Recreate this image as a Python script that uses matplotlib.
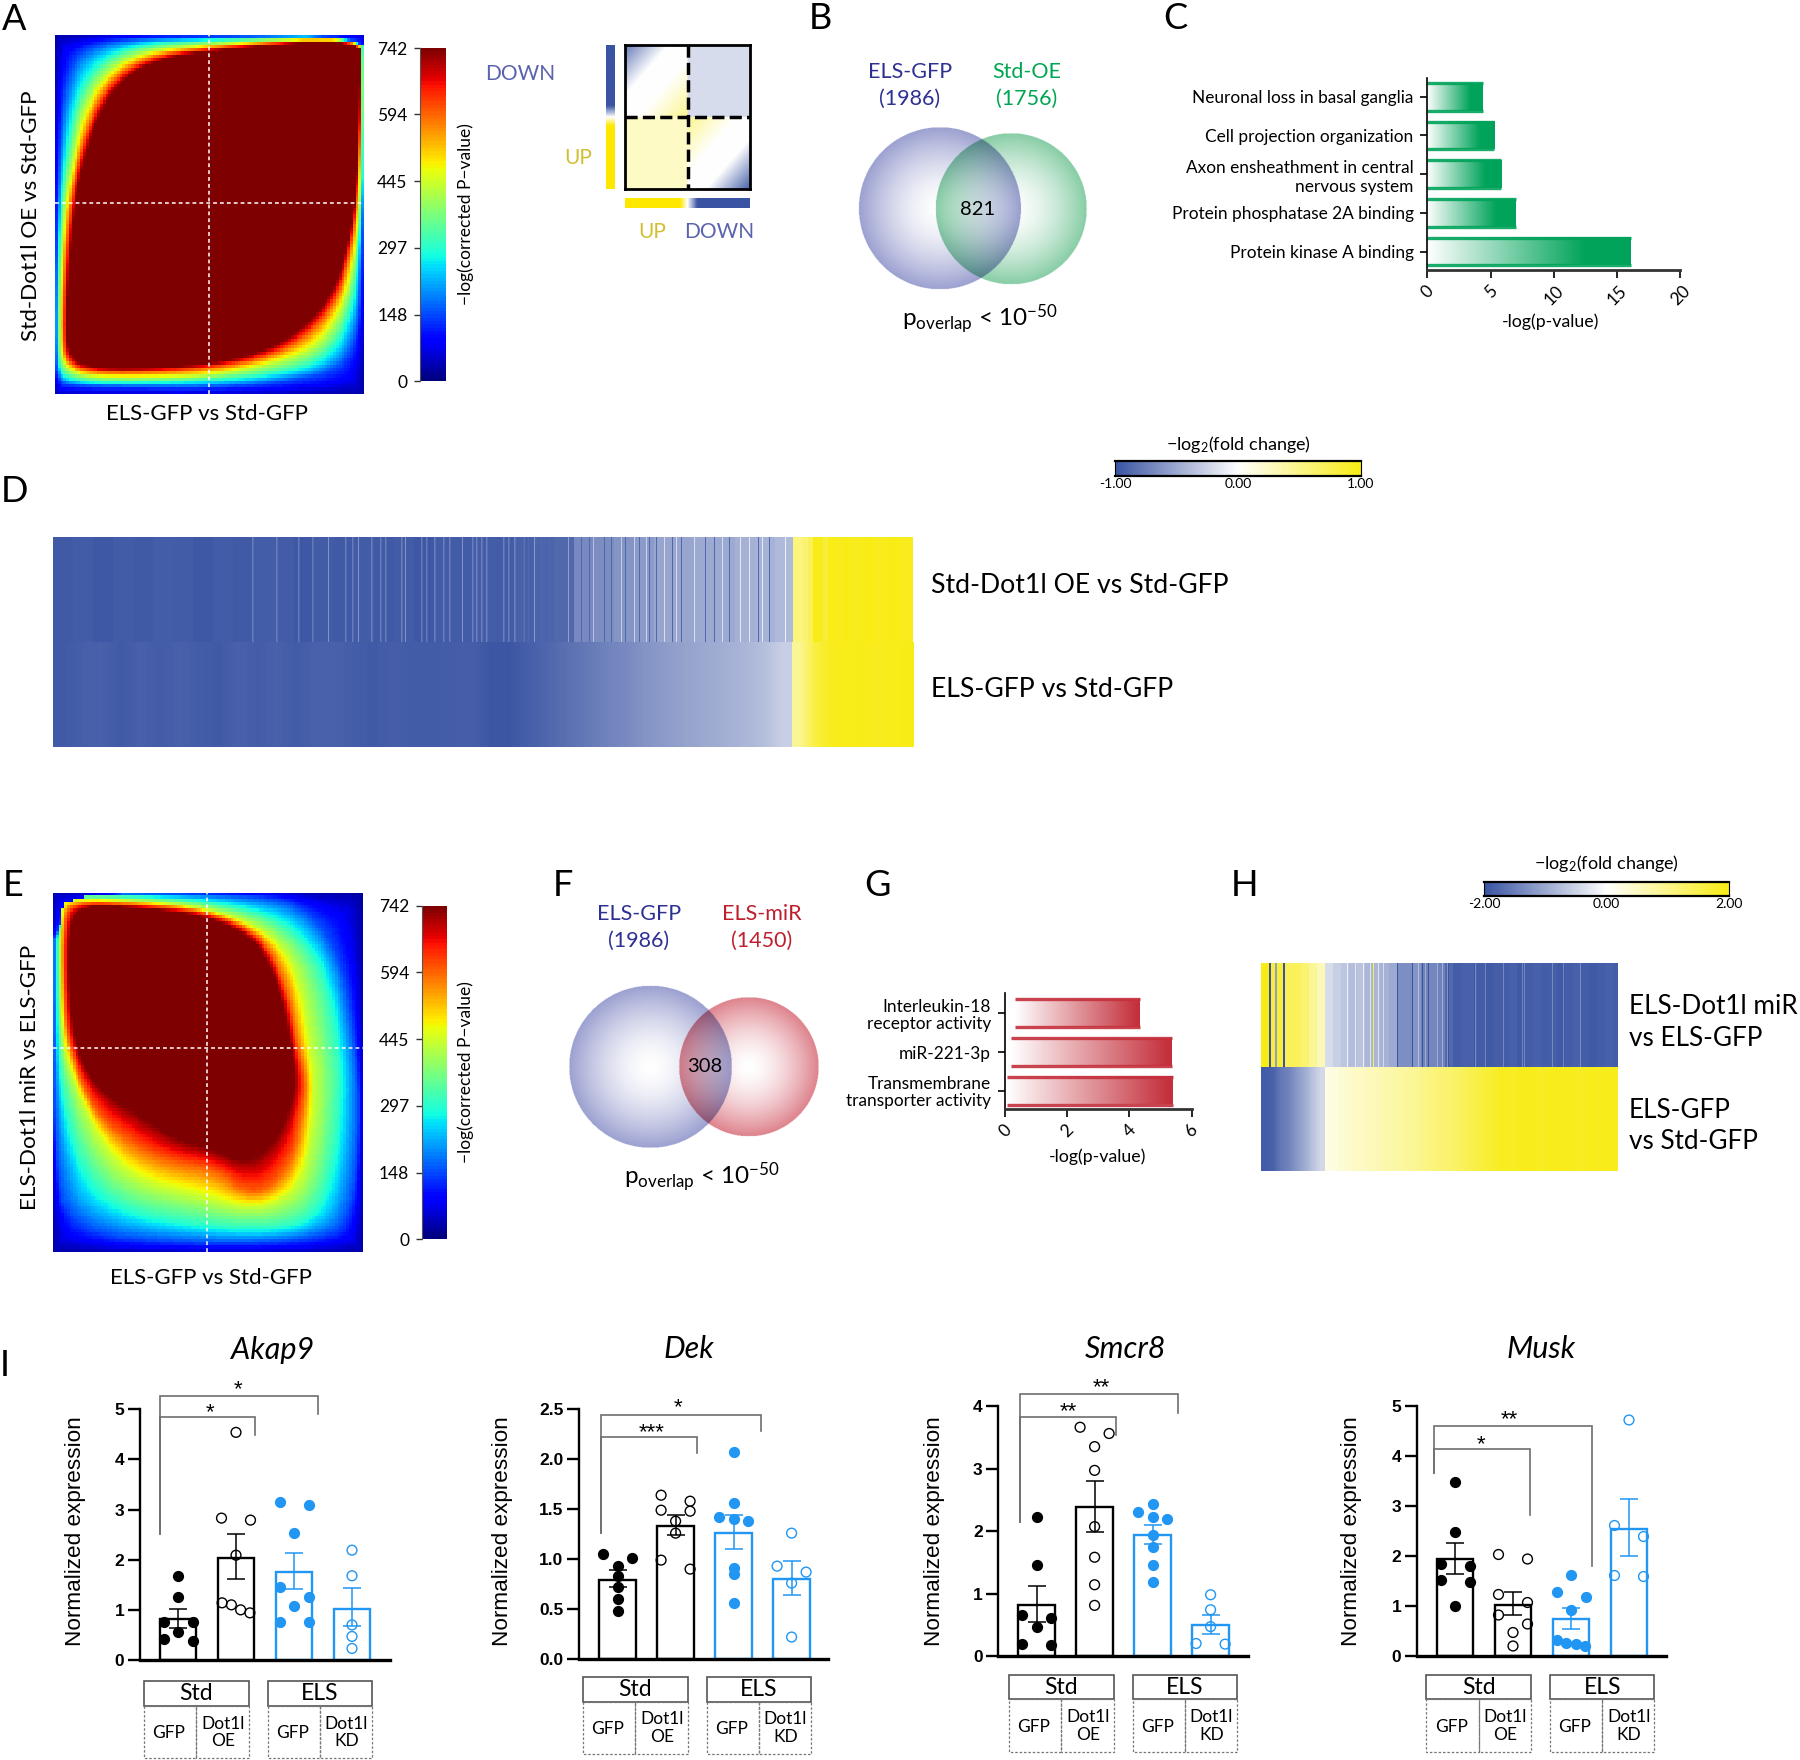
import numpy as np
from matplotlib import pyplot as plt
from matplotlib.colors import LinearSegmentedColormap
from matplotlib.path import Path

W, H = 1800, 1760

plt.rcParams["font.family"] = ["Lato", "DejaVu Sans"]
plt.rcParams["mathtext.fontset"] = "custom"
plt.rcParams["mathtext.rm"] = "Lato"
plt.rcParams["mathtext.it"] = "Lato:italic"
plt.rcParams["mathtext.bf"] = "Lato:bold"

# RRHO contours, percent of the map width / height from top left
rrho_levels = [20, 148, 297, 445, 594, 742]
a_c148 = [(99.8, 0.05), (50, .5), (22, 1), (8, 4), (3.5, 13), (1.5, 30), (.8, 47), (.3, 65), (.2, 88), (.6, 96.5),
          (6, 97.8), (22.6, 98), (50, 98.2), (72, 97), (93, 93.5), (98.4, 82), (99.4, 62), (99.8, 47), (99.9, 27), (99.9, 8)]
a_c297 = [(99.5, .2), (50, 1.3), (25, 2.8), (12.5, 8.5), (6.5, 19), (3.6, 34), (2, 46.8), (1, 64.5), (.7, 86), (1.5, 94.5),
          (8, 96.6), (22.6, 96.8), (50, 96.4), (72, 94.5), (88, 90.5), (96, 78), (98.2, 61), (99.4, 47), (99.7, 27.4), (99.7, 8)]
a_c445 = [(99.2, .3), (50, 2.5), (27, 4.8), (15.5, 11.5), (9, 22), (5.8, 36), (3.5, 46.8), (2, 64.5), (1.6, 85), (2.6, 92),
          (8.5, 95), (22.6, 95.5), (50, 95), (73, 91), (86, 86), (94, 74), (97, 61), (98.6, 47), (99.3, 27.4), (99.4, 8)]
a_c594 = [(99, .6), (50, 3.3), (29, 6.2), (17.5, 13), (11, 24), (7.2, 36.6), (5, 46.8), (3.2, 64.5), (2.6, 84), (3.6, 90.8),
          (9, 93.6), (22.6, 94.2), (50, 93.2), (71, 89.5), (84.5, 82), (92, 72.5), (95.6, 60.5), (97.8, 47), (98.9, 27.4), (99.1, 8.8)]
a_c742 = [(98.7, .9), (50, 4.2), (30.6, 7.4), (19.4, 14.4), (12.9, 24.6), (8.9, 36.6), (6.5, 46.8), (4.5, 64.5), (3.7, 83), (4.8, 89.5),
          (9.7, 92.3), (22.6, 93.2), (50, 91.8), (69.4, 87.7), (82.3, 80.2), (90.3, 71), (94.4, 59.8), (97.1, 46.8), (98.4, 27.4), (98.7, 8.8)]

e_c148 = [(.2, .2), (59, .5), (81, 3.2), (93, 17.6), (97.5, 42.7), (99.1, 62.2), (96.4, 90), (87.7, 96.6), (48.3, 98), (4.6, 94.7),
          (.4, 71.5), (.2, 34.4)]
e_c297 = [(1.3, .9), (26.4, 1.1), (53.8, 2.8), (73.4, 7.4), (84.4, 16.7), (89.3, 27.9), (92, 42.7), (93.1, 52.9), (90.9, 76.1), (84.4, 91),
          (70.2, 93.8), (48.3, 92.9), (21, 88.7), (7.9, 76.1), (2.4, 52.9), (1.3, 34.4)]
e_c445 = [(2.4, 3.7), (5.7, 1.9), (26.4, 2.3), (48.3, 4.2), (65.8, 9.3), (75.6, 16.7), (80.2, 27.9), (82.7, 42.7), (84.4, 52.9), (83.3, 66.9),
          (80, 80.8), (71.3, 86.8), (61.4, 87.7), (48.3, 84.5), (26.4, 79.8), (15.5, 69.6), (6.8, 52.9), (3.5, 42.7), (2.4, 27.9)]
e_c594 = [(3.5, 7.4), (6.2, 2.8), (26.4, 3.3), (48.3, 5.1), (63.6, 10.2), (70.7, 16.7), (75.8, 27.9), (78.9, 42.7), (81.6, 52.9), (80, 62.2),
          (77.8, 73.4), (70.2, 82.6), (61.4, 83.6), (52.7, 77), (37.4, 75.2), (24.3, 69.6), (13.3, 61.3), (5.1, 43.6), (3.5, 27.9)]
e_c742 = [(5.1, 9.3), (9, 3.7), (26.4, 4.2), (48.3, 6.5), (61.4, 11.1), (68, 16.7), (73.4, 27.9), (76.7, 42.7), (78.4, 52.9), (76.2, 60.4),
          (72.3, 68.7), (62.5, 75.7), (50.5, 71), (39.6, 68.7), (28.6, 62.2), (14.4, 54.8), (7.3, 43.6), (5.1, 27.9)]

rrho_ticks = [0, 148, 297, 445, 594, 742]

# Enrichment bars
c_terms = ["Neuronal loss in basal ganglia", "Cell projection organization",
           "Axon ensheathment in central\nnervous system", "Protein phosphatase 2A binding",
           "Protein kinase A binding"]
c_values = [4.4, 5.3, 5.85, 7.0, 16.1]
g_terms = ["Interleukin-18\nreceptor activity", "miR-221-3p", "Transmembrane\ntransporter activity"]
g_values = [4.33, 5.37, 5.4]
g_starts = [.33, .2, .07]

# Panel D heatmap, one level per 20 columns (860 columns)
d_top_base = [-.96, -.95, -.97, -.95, -.96, -.94, -.95, -.97, -.95, -.96, -.94, -.95, -.97, -.95, -.96, -.95, -.96, -.95, -.97, -.95,
              -.95, -.94, -.95, -.92, -.9, -.88, -.68, -.66, -.62, -.58, -.52, -.52, -.5, -.5, -.46, -.44, -.4, -.32]
d_top_weak = [199, 222, 244, 258, 291, 298, 317, 326, 331, 347, 367, 372, 380, 389, 395, 418, 422, 427, 432, 449, 454, 460, 469]
d_top_strong = [274, 304, 351, 408, 474, 480, 514, 539, 567, 580, 592, 610, 622, 640, 667, 685, 694, 707, 730]
d_top_dark = [469, 474, 487, 495, 503, 507, 527, 535, 550, 557, 571, 585, 595, 602, 618, 627, 650, 659, 674, 703, 714]
d_top_yellow = [.55, .55, .6, .7, 1, .95, .85, .97, .97, .95, 1, .97, .95, .97, .98, 1, .97, .95, .97, .98, 1, .97, .95, .97]
d_bot_blue = [-.96, -.93, -.92, -.96, -.92, -.95, -.92, -.94, -.96, -.92, -.94, -.92, -.95, -.92, -.92, -.94, -.96, -.93, -.95, -.95,
              -.94, -.93, -.98, -.98, -.93, -.88, -.83, -.78, -.72, -.68, -.62, -.58, -.54, -.5, -.47, -.43, -.38, -.28]
d_bot_yellow = [.45, .8, .95, .97, .98, .95, .97, .98]

# Panel H heatmap, one level per 8 columns (360 columns)
h_top_base = [1, .85, .85, .7, .7, .6, .45, .3, -.2, -.28, -.33, -.38, -.35, -.42, -.42, -.45, -.5, -.65, -.65, -.62, -.72, -.7, -.72,
              -.87, -.94, -.92, -.92, -.94, -.96, -.93, -.94, -.92, -.96, -.94, -.92, -.94, -.93, -.96, -.94, -.92, -.94, -.96, -.94, -.92, -.94]
h_top_blue = [8, 9, 22, 23, 136, 151, 161, 167, 187, 213]
h_top_gray = [14, 15]
h_top_light = [86, 94, 102, 109, 117, 122, 157, 164, 176, 181, 186, 214, 224, 242, 261, 263, 291, 302, 319]
h_top_yellow = [112]
h_bot_blue = [-.95, -.92, -.78, -.72, -.6, -.48, -.35, -.22]
h_bot_yellow = [.12, .15, .2, .22, .25, .28, .3, .35, .36, .4, .42, .45, .5, .55, .6, .6, .65, .7, .75, .8,
                .85, .9, .95, .93, .95, .97, .95, .93, .97, .95, .97, .95, .93, .97, .95, .97, .95]

# Normalized expression panels
groups = ["Std-GFP", "Std-OE", "ELS-GFP", "ELS-KD"]

akap9_means = [.82, 2.04, 1.75, 1.02]
akap9_upper = [1.01, 2.51, 2.13, 1.43]
akap9_lower = [.63, 1.61, 1.41, .68]
akap9_points = [[1.68, 1.26, .76, .76, .55, .41, .37],
                [4.54, 2.83, 2.79, 2.09, 1.14, 1.10, 1.0, .94],
                [3.16, 3.09, 2.53, 1.46, 1.26, 1.08, .76, .76],
                [2.19, 1.68, .70, .47, .23]]

dek_means = [.79, 1.33, 1.26, .80]
dek_upper = [.89, 1.44, 1.44, .98]
dek_lower = [.72, 1.24, 1.10, .64]
dek_points = [[1.05, 1.01, .93, .83, .72, .60, .48],
              [1.64, 1.58, 1.49, 1.48, 1.38, 1.26, .99, .90],
              [2.07, 1.56, 1.42, 1.40, 1.38, .91, .85, .56],
              [1.26, .93, .87, .76, .22]]

smcr8_means = [.82, 2.38, 1.93, .50]
smcr8_upper = [1.12, 2.80, 2.10, .66]
smcr8_lower = [.54, 1.99, 1.79, .35]
smcr8_points = [[2.23, 1.46, .66, .61, .47, .20, .17],
                [3.66, 3.56, 3.35, 2.97, 2.07, 1.58, 1.14, .81],
                [2.44, 2.31, 2.23, 2.20, 1.94, 1.74, 1.46, 1.19],
                [.98, .74, .47, .20, .19]]

musk_means = [1.94, 1.03, .75, 2.55]
musk_upper = [2.27, 1.29, .97, 3.15]
musk_lower = [1.64, .82, .55, 2.01]
musk_points = [[3.49, 2.49, 1.84, 1.80, 1.52, 1.49, 1.01],
               [2.03, 1.94, 1.23, 1.07, .82, .64, .47, .20],
               [1.62, 1.29, 1.19, .92, .33, .27, .25, .20],
               [4.72, 2.61, 2.39, 1.61, 1.59]]

BLUE = (58 / 255, 84 / 255, 163 / 255)
YELLOW = (248 / 255, 236 / 255, 20 / 255)
BAR_BLUE = "#2196F3"
fc_cmap = LinearSegmentedColormap.from_list("fc", [BLUE, "white", YELLOW])

fig = plt.figure(figsize=(W / 100, H / 100), dpi=100)

overlay = fig.add_axes([0, 0, 1, 1], zorder=20, facecolor="none")
overlay.set_xlim(0, W)
overlay.set_ylim(H, 0)
overlay.axis("off")


def ax_px(x0, y0, x1, y1, **kw):
    return fig.add_axes([x0 / W, 1 - y1 / H, (x1 - x0) / W, (y1 - y0) / H], **kw)


def label(x, y, text, size=16, ha="center", va="center", **kw):
    overlay.text(x, y + 1.5, text, fontsize=size, ha=ha, va=va, **kw)


def chaikin(poly, rounds=2):
    p = np.array(poly, float)
    for _ in range(rounds):
        q = np.roll(p, -1, axis=0)
        p = np.column_stack([.75 * p + .25 * q, .25 * p + .75 * q]).reshape(-1, 2)
    return p


def seg_dist(pts, poly):
    closed = np.vstack([poly, poly[:1]])
    best = np.full(len(pts), np.inf)
    for p, q in zip(closed[:-1], closed[1:]):
        d = q - p
        t = np.clip(((pts - p) @ d) / max(d @ d, 1e-9), 0, 1)
        best = np.minimum(best, np.hypot(*(pts - (p + t[:, None] * d)).T))
    return best


def rrho_grid(contours, n=110):
    c = (np.arange(n) + .5) * 100 / n
    uu, vv = np.meshgrid(c, c)
    pts = np.column_stack([uu.ravel(), vv.ravel()])
    edge = [(-.6, -.6), (100.6, -.6), (100.6, 100.6), (-.6, 100.6)]
    polys = [np.array(edge, float)] + [chaikin(p) for p in contours]
    inside = [Path(p).contains_points(pts) for p in polys]
    dist = [seg_dist(pts, p) for p in polys]
    val = np.zeros(len(pts))
    for k in range(len(polys) - 1):
        band = inside[k] & ~inside[k + 1]
        d0, d1 = dist[k][band], dist[k + 1][band]
        val[band] = rrho_levels[k] + (rrho_levels[k + 1] - rrho_levels[k]) * d0 / (d0 + d1)
    val[inside[-1]] = rrho_levels[-1]
    return val.reshape(n, n)


def draw_rrho(contours, box, cbar_box, vline, hline, xlabel, ylabel, xlabel_xy, ylabel_xy):
    ax = ax_px(*box)
    ax.imshow(rrho_grid(contours), cmap=plt.get_cmap("jet", 100), vmin=0, vmax=742,
              extent=(0, 100, 100, 0), aspect="auto", interpolation="nearest")
    ax.axvline(vline, color="white", lw=1.1, ls=(0, (2.5, 2)))
    ax.axhline(hline, color="white", lw=1.1, ls=(0, (2.5, 2)))
    ax.set_xticks([])
    ax.set_yticks([])
    for s in ax.spines.values():
        s.set_visible(False)

    cb = ax_px(*cbar_box)
    cb.imshow(np.arange(100)[::-1, None], cmap=plt.get_cmap("jet", 100), aspect="auto",
              extent=(0, 1, 0, 742), interpolation="nearest")
    cb.set_xticks([])
    cb.yaxis.set_ticks(rrho_ticks)
    cb.tick_params(axis="y", length=4, width=1, labelsize=12.5, color="#333333", pad=5)
    for s in ["top", "right", "bottom"]:
        cb.spines[s].set_visible(False)
    cb.spines["left"].set_color("#555555")
    label(cbar_box[2] + 20, (cbar_box[1] + cbar_box[3]) / 2 - 2, "\u2212log(corrected P\u2212value)",
          size=12.5, rotation=90)
    label(xlabel_xy[0], xlabel_xy[1], xlabel, size=16)
    label(ylabel_xy[0], ylabel_xy[1], ylabel, size=16.2, rotation=90)


def draw_venn(c1, r1, c2, r2, edge1, edge2, box):
    x0, y0, x1, y1 = box
    ax = ax_px(*box)
    xs, ys = np.meshgrid(np.arange(x0, x1, .5), np.arange(y0, y1, .5))
    img = np.ones(xs.shape + (3,))
    for c, r, edge in [(c1, r1, edge1), (c2, r2, edge2)]:
        t = np.hypot(xs - c[0], ys - c[1]) / r
        mix = np.clip(t, 0, 1)[..., None] ** 1.6
        layer = (1 - mix) + mix * np.array(edge) / 255
        layer[t > 1] = 1
        img *= layer
    ax.imshow(img, extent=(x0, x1, y1, y0), aspect="auto", interpolation="antialiased")
    ax.axis("off")


def draw_hbars(box, centers, terms, values, xmax, xticks, color, solid_at, line_gap, starts=None):
    ax = ax_px(*box)
    spacing = centers[1] - centers[0]
    ytop = (box[1] - centers[0]) / spacing
    ybot = (box[3] - centers[0]) / spacing
    cmap = LinearSegmentedColormap.from_list("bar", [(0, "white"), (solid_at, color), (1, color)])
    grad = np.linspace(0, 1, 256)[None, :]
    half = 13.8 / spacing
    for i, v in enumerate(values):
        s = 0 if starts is None else starts[i]
        ax.imshow(grad, cmap=cmap, extent=(s, v, i + half, i - half), aspect="auto")
        ax.plot([s, v], [i - half, i - half], color=color, lw=2.4, solid_capstyle="butt", alpha=.9)
        ax.plot([s, v], [i + half, i + half], color=color, lw=2.4, solid_capstyle="butt", alpha=.9)
    ax.set_xlim(0, xmax)
    ax.set_ylim(ybot, ytop)
    ax.patch.set_alpha(0)
    ax.set_yticks(range(len(terms)))
    ax.set_yticklabels(terms, fontsize=12.4, linespacing=line_gap)
    ax.set_xticks(xticks)
    ax.tick_params(axis="x", labelsize=12.5, rotation=45, length=6, width=1.2, pad=3)
    ax.tick_params(axis="y", length=5, width=1.2, pad=5)
    ax.spines["top"].set_visible(False)
    ax.spines["right"].set_visible(False)
    ax.spines["left"].set_linewidth(1.2)
    ax.spines["bottom"].set_linewidth(2)
    ax.spines["bottom"].set_color("#333333")


def draw_fc_bar(box, lo, hi, ticks, title_y):
    ax = ax_px(*box)
    ax.imshow(np.linspace(lo, hi, 256)[None, :], cmap=fc_cmap, vmin=lo, vmax=hi,
              extent=(lo, hi, 0, 1), aspect="auto")
    ax.set_yticks([])
    ax.set_xticks(ticks)
    ax.set_xticklabels(["%.2f" % t for t in ticks], fontsize=10)
    ax.tick_params(axis="x", length=0, pad=1.5)
    ax.spines["top"].set_linewidth(1.6)
    ax.spines["bottom"].set_linewidth(1.6)
    ax.spines["left"].set_linewidth(.8)
    ax.spines["right"].set_linewidth(.8)
    label((box[0] + box[2]) / 2, title_y, "\u2212log$_{2}$(fold change)", size=13)


def spread(points, bin_width):
    offsets = {1: [0], 2: [-.25, .25], 3: [-.25, 0, .25], 4: [-.24, -.08, .08, .24]}
    xs, group = [], []
    for p in points + [None]:
        if group and (p is None or group[0] - p > bin_width):
            xs.extend(offsets[min(len(group), 4)][:len(group)])
            group = []
        if p is not None:
            group.append(p)
    return xs


def draw_expression(title, box, first_center, right, ymax, yticks, fmt, means, upper, lower, points, bin_widths,
                    title_x, ylabel_x, box_x, box_y, brackets, stars):
    spacing = 58
    ax = ax_px(box[0], box[1], right, box[2])
    ax.set_xlim((box[0] - first_center) / spacing, (right - first_center) / spacing)
    ax.set_ylim(0, ymax)
    ax.patch.set_alpha(0)
    for i in range(4):
        col = "black" if i < 2 else BAR_BLUE
        ax.bar(i, means[i], width=.633, fill=False, edgecolor=col, linewidth=1.7, zorder=2)
        ax.errorbar(i, means[i], yerr=[[means[i] - lower[i]], [upper[i] - means[i]]], color=col,
                    capsize=6.8, lw=1.1, capthick=1.1, zorder=3)
        ax.scatter(i + np.array(spread(points[i], bin_widths[i])), points[i], s=50, zorder=4, clip_on=False,
                   facecolors=col if i % 2 == 0 else "none", edgecolors=col, linewidths=1)
    ax.set_xticks([])
    ax.set_yticks(yticks)
    ax.set_yticklabels([fmt % t for t in yticks], fontsize=12.5, fontweight="bold", family="Liberation Sans")
    ax.tick_params(axis="y", length=9, width=1.7, pad=2)
    ax.spines["top"].set_visible(False)
    ax.spines["right"].set_visible(False)
    ax.spines["left"].set_linewidth(1.7)
    ax.spines["bottom"].set_linewidth(2.4)

    label(title_x, 1348, title, size=22, style="italic")
    label(ylabel_x, 1530, "Normalized expression", size=16.2, rotation=90, family="Liberation Sans")

    # brackets
    for x0, x1, top, y0, y1 in brackets:
        overlay.plot([x0, x0, x1, x1], [y0, top, top, y1], color="#6e6e6e", lw=1.2, solid_joinstyle="miter")
    for x, y, s in stars:
        label(x, y + 3, s, size=16, family="Liberation Sans")

    # group boxes under the bars
    ytop, ymid, ybot = box_y
    for off, name, sub, in [(0, "Std", "Dot1l\nOE"), (123.5, "ELS", "Dot1l\nKD")]:
        x0 = box_x + off
        overlay.add_patch(plt.Rectangle((x0, ytop), 104.5, ymid - ytop, fill=False, ec="#555555", lw=1.2))
        overlay.add_patch(plt.Rectangle((x0, ymid), 52.25, ybot - ymid, fill=False, ec="#777777", lw=.9, ls=(0, (2, 1.5))))
        overlay.add_patch(plt.Rectangle((x0 + 52.25, ymid), 52.25, ybot - ymid, fill=False, ec="#777777", lw=.9, ls=(0, (2, 1.5))))
        label(x0 + 52.25, (ytop + ymid) / 2 - 1, name, size=16.5)
        label(x0 + 25, (ymid + ybot) / 2, "GFP", size=12.5)
        label(x0 + 79, (ymid + ybot) / 2 - 1, sub, size=12.5, linespacing=1.15)


# Panel letters
for x, y, s in [(14, 18, "A"), (820, 17, "B"), (1175, 17, "C"), (14, 490, "D"), (13, 884, "E"),
                (563, 884, "F"), (877, 884, "G"), (1244, 884, "H"), (5, 1364, "I")]:
    label(x, y, s, size=26)

# A and E
draw_rrho([a_c148, a_c297, a_c445, a_c594, a_c742], (54.7, 35, 363, 394), (420, 48, 446, 381),
          50, 46.8, "ELS-GFP vs Std-GFP", "Std-Dot1l OE vs Std-GFP", (207, 412), (31, 214))
draw_rrho([e_c148, e_c297, e_c445, e_c594, e_c742], (53.4, 893, 362.5, 1252), (421.6, 906, 446, 1239),
          49.8, 43.2, "ELS-GFP vs Std-GFP", "ELS-Dot1l miR vs ELS-GFP", (211, 1277), (30, 1076))

# RRHO legend
leg = ax_px(625, 45, 750, 189)
n = 200
uu, vv = np.meshgrid(np.linspace(0, 1, n), np.linspace(0, 1, n))
quad = np.zeros((n, n))
tl = (uu < .5) & (vv < .5)
br = (uu >= .5) & (vv >= .5)
s_tl = uu[tl] + vv[tl]
quad[tl] = np.where(s_tl < .35, -(.35 - s_tl) * 2.2, np.where(s_tl > .6, (s_tl - .6) * 1.2, 0))
s_br = uu[br] + vv[br] - 1
quad[br] = np.where(s_br < .4, (.4 - s_br) * 1.2, np.where(s_br > .65, -(s_br - .65) * 2.6, 0))
quad[(uu >= .5) & (vv < .5)] = -.2
quad[(uu < .5) & (vv >= .5)] = .24
leg.imshow(quad, cmap=fc_cmap, vmin=-1, vmax=1, extent=(0, 1, 1, 0), aspect="auto")
leg.plot([.5, .5], [0, 1], color="black", lw=2.5, ls=(0, (3.5, 1.5)))
leg.plot([0, 1], [.5, .5], color="black", lw=2.5, ls=(0, (3.5, 1.5)))
leg.set_xticks([])
leg.set_yticks([])
leg.set_xlim(0, 1)
leg.set_ylim(1, 0)
for s in leg.spines.values():
    s.set_linewidth(2)

strip_cmap = LinearSegmentedColormap.from_list(
    "strip", [(0, BLUE), (.42, BLUE), (.5, "white"), (.56, "#FFE800"), (1, "#FFE800")])
side = ax_px(606, 45, 615, 189)
side.imshow(np.linspace(0, 1, 200)[:, None], cmap=strip_cmap, aspect="auto")
side.axis("off")
bottom = ax_px(625, 198, 750, 208)
bottom.imshow(np.linspace(1, 0, 200)[None, :], cmap=strip_cmap, aspect="auto")
bottom.axis("off")
label(520, 73, "DOWN", size=15, color="#5B63AE")
label(578, 156, "UP", size=15, color="#D2BE32")
label(652, 230, "UP", size=15, color="#D2BE32")
label(719, 230, "DOWN", size=15, color="#5B63AE")

# B and F
draw_venn((939.7, 208), 81, (1011, 208.5), 75.5, (155, 160, 208), (135, 205, 165), (850, 120, 1095, 295))
label(910, 71, "ELS-GFP", size=15.5, color="#2E3192")
label(910, 97, "(1986)", size=15.5, color="#2E3192")
label(1027, 71, "Std-OE", size=15.5, color="#00A651")
label(1027, 97, "(1756)", size=15.5, color="#00A651")
label(978, 208, "821", size=14.5)
label(980, 318, "p$_{\\mathrm{overlap}}$ < 10$^{-50}$", size=17.5)

draw_venn((650, 1066.5), 81, (748, 1066.5), 69.5, (155, 160, 208), (222, 130, 140), (560, 980, 825, 1155))
label(639, 912, "ELS-GFP", size=15.5, color="#2E3192")
label(639, 939, "(1986)", size=15.5, color="#2E3192")
label(762, 912, "ELS-miR", size=15.5, color="#BE1E2D")
label(762, 939, "(1450)", size=15.5, color="#BE1E2D")
label(705, 1065.5, "308", size=14.5)
label(702, 1176, "p$_{\\mathrm{overlap}}$ < 10$^{-50}$", size=17.5)

# C and G
draw_hbars((1427.4, 78, 1680.4, 270), [96.8, 135.5, 174, 212.5, 251.5], c_terms, c_values, 20, [0, 5, 10, 15, 20],
           "#00A35A", .78, 1.22)
label(1551, 320, "-log(p-value)", size=12.8)
draw_hbars((1005, 993, 1191.5, 1109), [1013.3, 1052, 1090.3], g_terms, g_values, 6, [0, 2, 4, 6], "#C4303C", .98, 1.06, g_starts)
label(1098, 1155, "-log(p-value)", size=12.8)

# D
draw_fc_bar((1115, 461, 1361, 476), -1, 1, [-1, 0, 1], 443)
top = np.repeat(d_top_base, 20)[:738].astype(float)
top[d_top_weak] += .2
top[np.array(d_top_weak) + 1] += .1
top[d_top_strong] += .32
top[d_top_dark] = -.88
top_all = np.concatenate([top, np.repeat(d_top_yellow, 5)[:122]])
ax = ax_px(53, 537, 913, 642)
ax.imshow(top_all[None, :], cmap=fc_cmap, vmin=-1, vmax=1, aspect="auto", interpolation="nearest")
ax.axis("off")
ax = ax_px(53, 642, 791.5, 747)
ax.imshow(np.array(d_bot_blue)[None, :], cmap=fc_cmap, vmin=-1, vmax=1, aspect="auto", interpolation="bilinear")
ax.axis("off")
ax = ax_px(791.5, 642, 913, 747)
ax.imshow(np.array(d_bot_yellow)[None, :], cmap=fc_cmap, vmin=-1, vmax=1, aspect="auto", interpolation="bilinear")
ax.axis("off")
label(931, 584, "Std-Dot1l OE vs Std-GFP", size=19.2, ha="left")
label(931, 688, "ELS-GFP vs Std-GFP", size=19.2, ha="left")

# H
draw_fc_bar((1484, 882, 1729, 896), -2, 2, [-2, 0, 2], 862)
top = np.repeat(h_top_base, 8)[:357].astype(float)
top[h_top_light] += .25
top[h_top_blue] = -1
top[h_top_gray] = -.55
top[h_top_yellow] = .8
ax = ax_px(1261, 962.7, 1617.5, 1066.7)
ax.imshow(top[None, :], cmap=fc_cmap, vmin=-1, vmax=1, aspect="auto", interpolation="nearest")
ax.axis("off")
ax = ax_px(1261, 1066.7, 1325, 1171)
ax.imshow(np.array(h_bot_blue)[None, :], cmap=fc_cmap, vmin=-1, vmax=1, aspect="auto", interpolation="bilinear")
ax.axis("off")
ax = ax_px(1325, 1066.7, 1617.5, 1171)
ax.imshow(np.array(h_bot_yellow)[None, :], cmap=fc_cmap, vmin=-1, vmax=1, aspect="auto", interpolation="bilinear")
ax.axis("off")
label(1629, 1005, "ELS-Dot1l miR", size=18.8, ha="left")
label(1629, 1037, "vs ELS-GFP", size=18.8, ha="left")
label(1629, 1109, "ELS-GFP", size=18.8, ha="left")
label(1629, 1140, "vs Std-GFP", size=18.8, ha="left")

# I
draw_expression("Akap9", (139.5, 1409.3, 1660), 178, 390, 5, range(6), "%d", akap9_means, akap9_upper, akap9_lower,
                akap9_points, [.12, .21, .21, .12], 272.7, 75, 144, (1680.7, 1706, 1758),
                [(159.6, 317.5, 1396, 1534, 1414), (159.6, 255, 1417, 1534, 1435)],
                [(237.7, 1385, "*"), (210, 1408, "*")])
draw_expression("Dek", (578.6, 1409.3, 1659), 617.6, 828, 2.5, [0, .5, 1, 1.5, 2, 2.5], "%.1f", dek_means, dek_upper, dek_lower,
                dek_points, [.06, .1, .06, .07], 689, 502.5, 583, (1676.7, 1701.7, 1754),
                [(601, 760.6, 1415, 1532.7, 1431), (601, 697, 1437.3, 1532.7, 1452.7)],
                [(678.5, 1403, "*"), (652, 1428, "***")])
draw_expression("Smcr8", (998, 1406, 1656), 1036.6, 1248, 4, range(5), "%d", smcr8_means, smcr8_upper, smcr8_lower,
                smcr8_points, [.12, .12, .12, .12], 1125.6, 934.6, 1009, (1674.7, 1699.3, 1751.7),
                [(1020, 1178.4, 1394, 1522.3, 1413), (1020, 1115.8, 1417, 1522.3, 1435)],
                [(1101, 1382.7, "**"), (1068, 1407, "**")])
draw_expression("Musk", (1416.7, 1406, 1656), 1455, 1666, 5, range(6), "%d", musk_means, musk_upper, musk_lower,
                musk_points, [.12, .2, .15, .25], 1540.6, 1352, 1426.4, (1674.7, 1699.3, 1751.7),
                [(1433.9, 1591.7, 1426.3, 1473, 1565.7), (1433.9, 1529.7, 1449.3, 1473, 1515)],
                [(1509.6, 1415, "**"), (1481, 1440, "*")])

fig.savefig("out.png", dpi=100)
